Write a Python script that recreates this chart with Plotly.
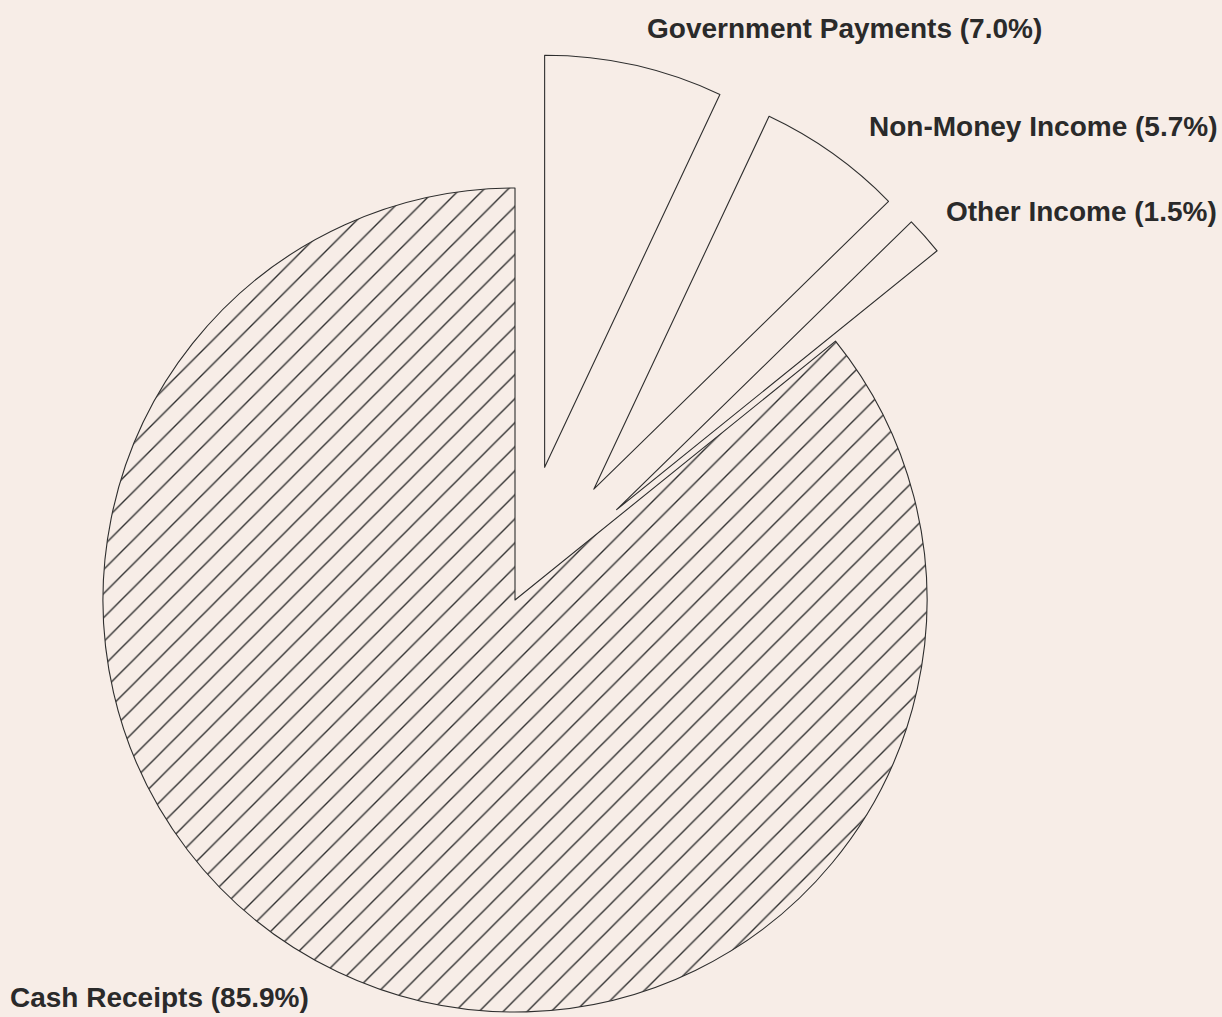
import math
import plotly.graph_objects as go

# ---- data ----
labels = ["Government Payments", "Non-Money Income", "Other Income", "Cash Receipts"]
shares = [7.0, 5.7, 1.5, 85.9]          # percent of total farm income
exploded = [True, True, True, False]
hatched = [False, False, False, True]

# ---- style / layout constants ----
W, H = 1222, 1017
PAPER = "#f7ede7"
INK = "#2e2e2e"
CX, CY, R = 515, 600, 412      # pie centre and radius (px)
PULL = 0.33                    # explode distance as fraction of radius
LABEL_POS = [(645, 29, "left"), (1219, 127, "right"), (1219, 212, "right"), (8, 997, "left")]

n = len(shares)
total = sum(shares)
fig = go.Figure()
cum = 0.0
for i in range(n):
    v = shares[i]
    mid = math.radians((cum + v / 2) / total * 360.0)
    cum += v
    d = PULL * R if exploded[i] else 0.0
    cx = CX + d * math.sin(mid)
    cy = CY - d * math.cos(mid)
    dom_x = [(cx - R) / W, (cx + R) / W]
    dom_y = [1 - (cy + R) / H, 1 - (cy - R) / H]
    colors = [PAPER if j == i else "rgba(0,0,0,0)" for j in range(n)]
    lw = [1.1 if j == i else 0 for j in range(n)]
    lc = [INK if j == i else "rgba(0,0,0,0)" for j in range(n)]
    shapes = ["/" if (j == i and hatched[j]) else "" for j in range(n)]
    fig.add_trace(go.Pie(
        labels=labels, values=shares, sort=False, direction="clockwise", rotation=0,
        domain=dict(x=dom_x, y=dom_y),
        marker=dict(colors=colors, line=dict(color=lc, width=lw),
                    pattern=dict(shape=shapes, fgcolor=INK, bgcolor=PAPER, size=17, solidity=0.08)),
        textinfo="none", hoverinfo="skip", showlegend=False,
    ))

for lab, v, (px, py, anchor) in zip(labels, shares, LABEL_POS):
    fig.add_annotation(
        text=f"{lab} ({v:.1f}%)", xref="paper", yref="paper",
        x=px / W, y=1 - py / H, xanchor=anchor, yanchor="middle", showarrow=False,
        font=dict(family="Liberation Sans", size=28, color="#2a2a2a", weight="bold"),
    )

fig.update_layout(
    width=W, height=H, margin=dict(l=0, r=0, t=0, b=0),
    paper_bgcolor=PAPER, plot_bgcolor=PAPER, showlegend=False,
)

fig.write_html(
    "out.html",
    config={"displayModeBar": False},
    post_script="document.body.style.margin='0';document.body.style.overflow='hidden';document.body.style.background='" + PAPER + "';",
)
